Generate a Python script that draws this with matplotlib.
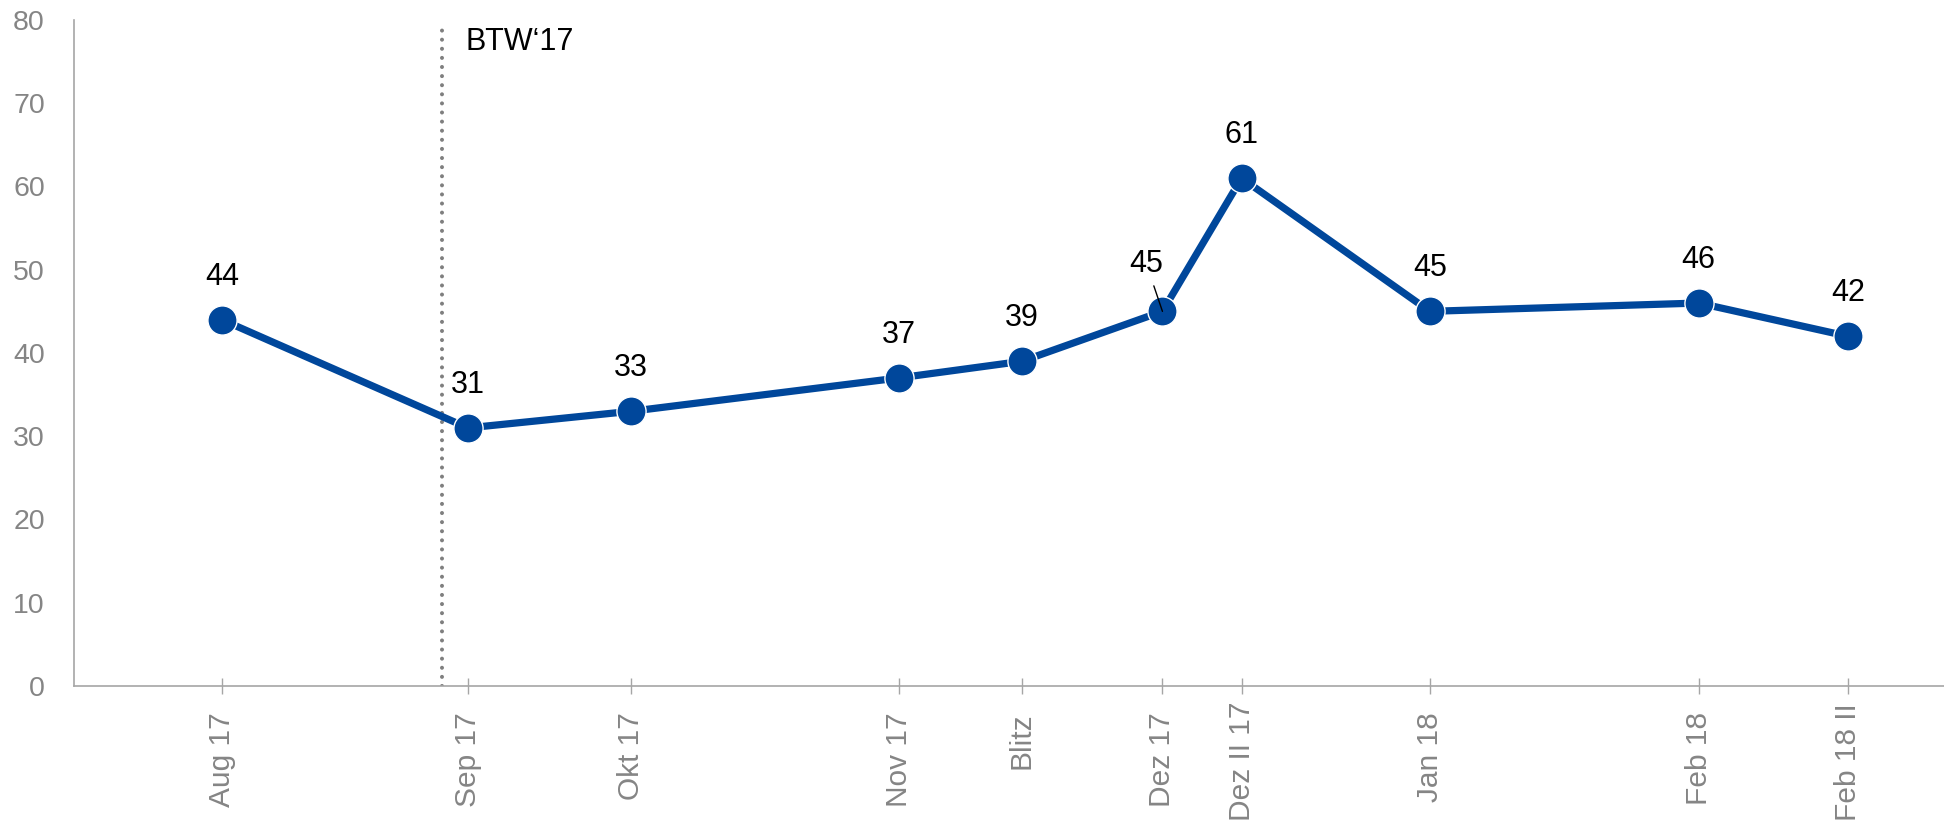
import matplotlib.pyplot as plt
import matplotlib.dates as mdates
import matplotlib.transforms as mtransforms
import numpy as np
from datetime import datetime

# survey dates (approximate field dates) and values
dates = ["2017-08-30 00:00", "2017-09-27 00:00", "2017-10-15 14:00", "2017-11-15 00:00",
         "2017-11-29 00:00", "2017-12-15 00:00", "2017-12-24 00:00", "2018-01-14 10:00",
         "2018-02-14 00:00", "2018-03-03 00:00"]
labels = ["Aug 17", "Sep 17", "Okt 17", "Nov 17", "Blitz",
          "Dez 17", "Dez II 17", "Jan 18", "Feb 18", "Feb 18 II"]
values = [44, 31, 33, 37, 39, 45, 61, 45, 46, 42]
election_date = "2017-09-24 00:00"
election_label = "BTW\u201817"

BLUE = "#00479b"
GRAY = "#a6a6a6"
TEXT_GRAY = "#858585"

plt.rcParams["font.family"] = ["Liberation Sans", "DejaVu Sans"]

fmt = "%Y-%m-%d %H:%M"
x = mdates.date2num([datetime.strptime(d, fmt) for d in dates])
x_el = mdates.date2num(datetime.strptime(election_date, fmt))

fig = plt.figure(figsize=(19.44, 8.25), dpi=100)
ax = fig.add_axes([0.0381, 0.1685, 0.9619, 0.8073])

ax.plot(x, values, color=BLUE, linewidth=5.2, marker="o", markersize=21,
        markerfacecolor=BLUE, markeredgecolor="white", markeredgewidth=1.0,
        zorder=3)

for i, (xi, v) in enumerate(zip(x, values)):
    if labels[i] == "Dez 17":
        ax.annotate(str(v), (xi, v), xytext=(-11.5, 34), textcoords="offset points",
                    ha="center", va="center", fontsize=22, color="black", zorder=5,
                    arrowprops=dict(arrowstyle="-", color="black", lw=1,
                                    shrinkA=3, shrinkB=0))
    else:
        ax.annotate(str(v), (xi, v), xytext=(0, 31), textcoords="offset points",
                    ha="center", va="center", fontsize=22, color="black")

vl = ax.axvline(x_el, ymin=0, ymax=0.994, color="#7f7f7f", linestyle=(0, (0.01, 2.25)),
                linewidth=2.9, zorder=2)
vl.set_dash_capstyle("round")
ax.annotate(election_label, (x_el, 77.3), xytext=(17, 0), textcoords="offset points",
            ha="left", va="center", fontsize=22, color="black")

ax.set_ylim(0, 80)
ax.set_yticks(np.arange(0, 81, 10))
ax.set_xlim(x[0] - 16.8, x[0] + 195.9)
ax.set_xticks(x)
ax.set_xticklabels(labels, rotation=90, ha="center", va="top")

for s in ["top", "right"]:
    ax.spines[s].set_visible(False)
ax.spines["left"].set_color(GRAY)
ax.spines["bottom"].set_color(GRAY)
ax.spines["left"].set_linewidth(1.2)
ax.spines["bottom"].set_linewidth(1.2)

ax.tick_params(axis="x", direction="inout", length=11.5, width=1, color=GRAY,
               labelsize=21.5, labelcolor=TEXT_GRAY, pad=13)
ax.tick_params(axis="y", length=0, labelsize=20.5, labelcolor=TEXT_GRAY, pad=21)

# long category labels are pushed up so they stay inside the figure
fig.canvas.draw()
for lbl in ax.get_xticklabels():
    bb = lbl.get_window_extent()
    if bb.y0 < 4:
        dy = (4 - bb.y0) / fig.dpi
        lbl.set_transform(lbl.get_transform() +
                          mtransforms.ScaledTranslation(0, dy, fig.dpi_scale_trans))

fig.savefig("out.png", dpi=100)
